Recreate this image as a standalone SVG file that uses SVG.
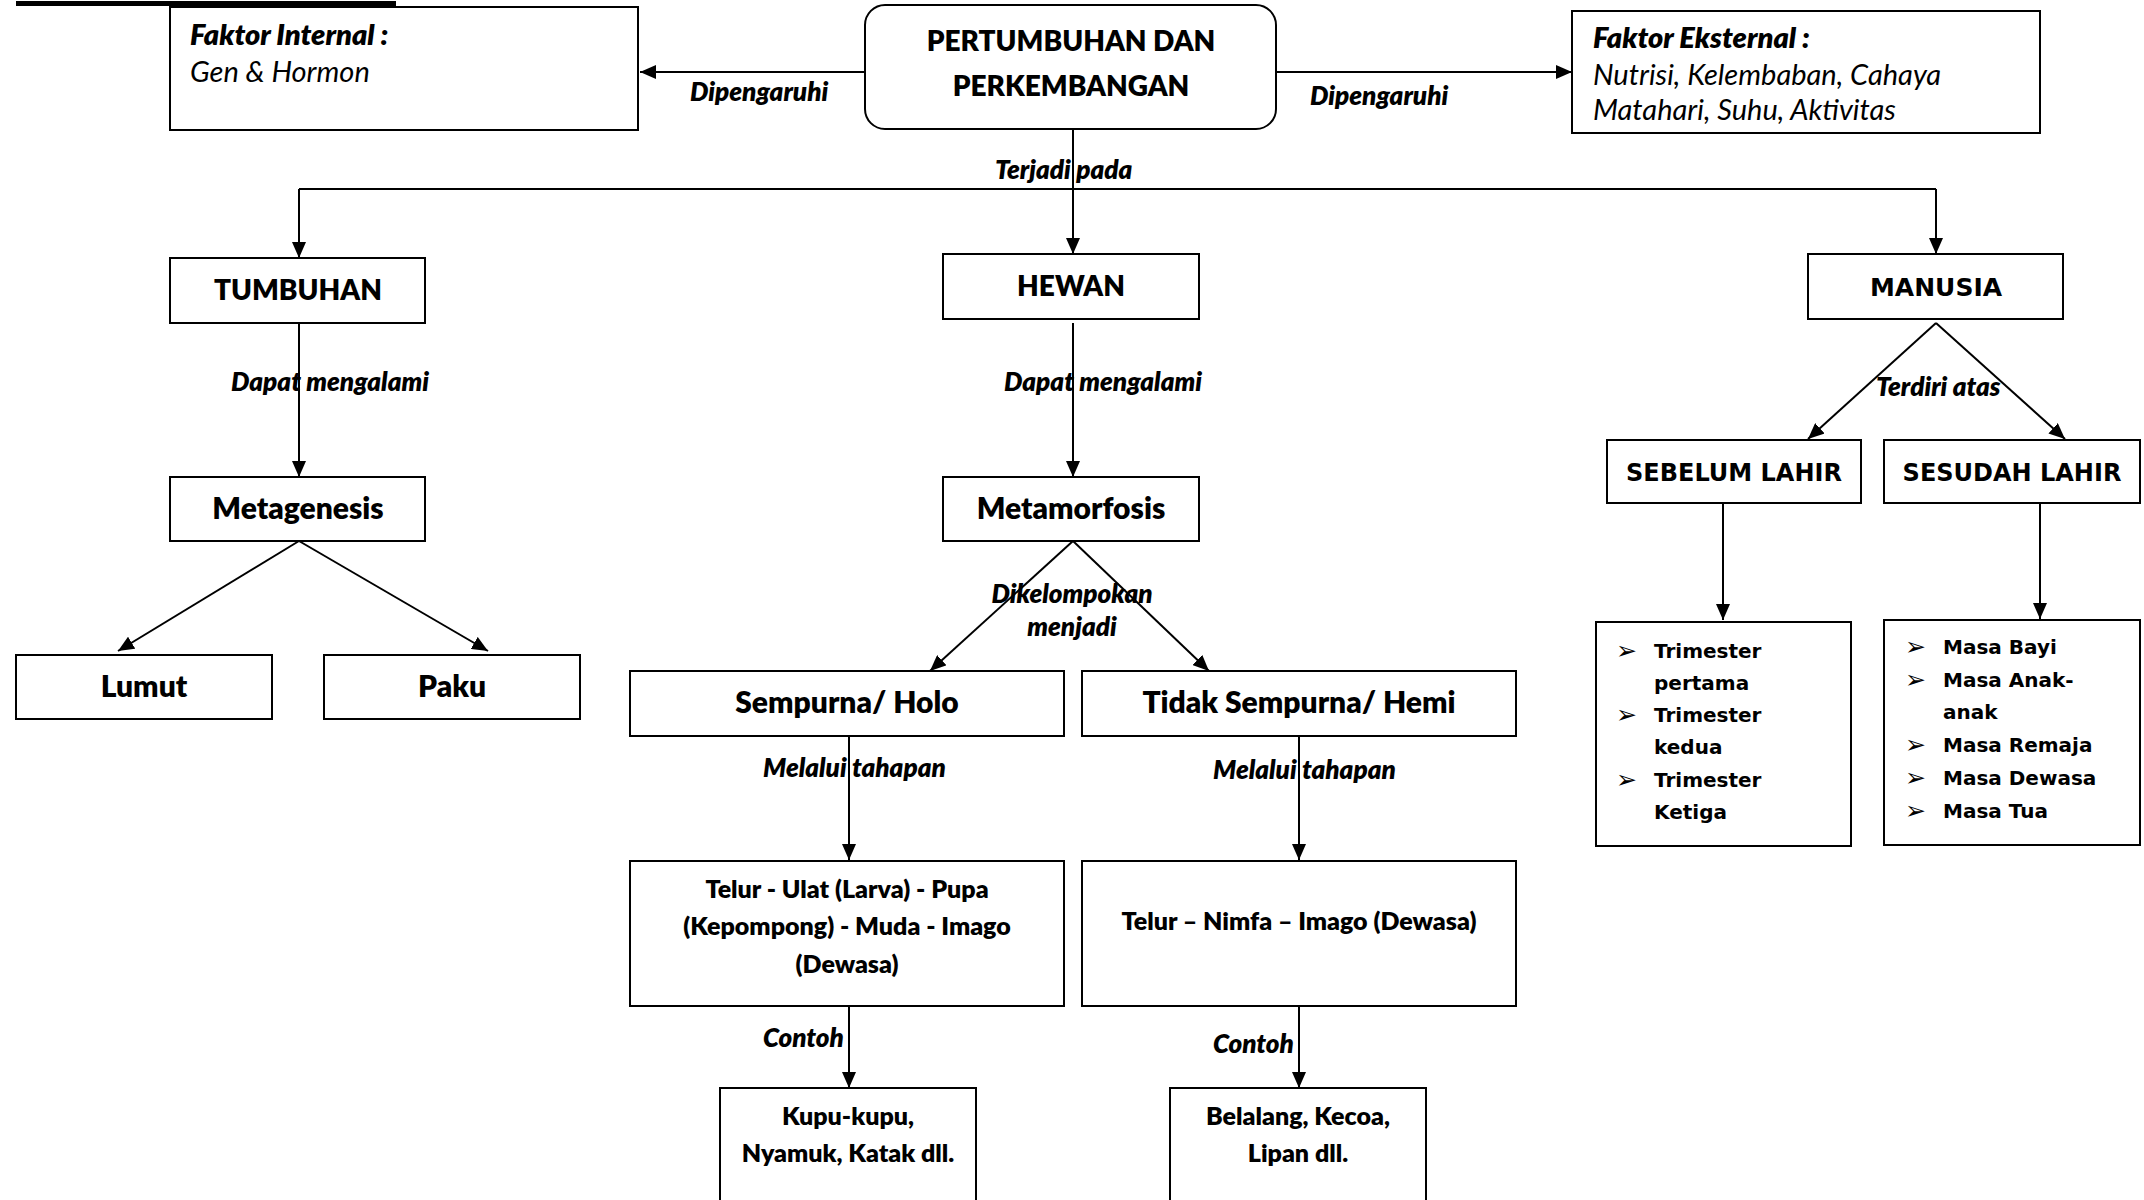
<svg xmlns="http://www.w3.org/2000/svg" width="2144" height="1200" viewBox="0 0 2144 1200">
<defs>
<marker id="arr" markerUnits="userSpaceOnUse" markerWidth="18" markerHeight="14" refX="16" refY="7" orient="auto">
<path d="M0,0 L16,7 L0,14 z" fill="#000"/>
</marker>
<style>
.box{fill:#fff;stroke:#000;stroke-width:2}
.ln{fill:none;stroke:#000;stroke-width:2}
.t{font-family:Lato,"Liberation Sans",sans-serif;font-weight:800;fill:#000;text-anchor:middle}
.lb{font-family:Lato,"Liberation Sans",sans-serif;font-weight:800;font-style:italic;font-size:26px;fill:#000}
.it{font-family:Lato,"Liberation Sans",sans-serif;font-style:italic;font-size:29px;fill:#000}
.v{font-family:"DejaVu Sans",Verdana,sans-serif;font-weight:bold;fill:#000}
.bu{font-family:"DejaVu Sans",sans-serif;font-size:25px;fill:#000}
</style>
</defs>
<rect width="2144" height="1200" fill="#fff"/>
<rect x="16" y="1" width="380" height="5" fill="#000"/>

<g id="connectors">
<path class="ln" d="M865,72 L640,72" marker-end="url(#arr)"/>
<path class="ln" d="M1276,72 L1572,72" marker-end="url(#arr)"/>
<path class="ln" d="M1073,129 L1073,254" marker-end="url(#arr)"/>
<path class="ln" d="M299,189 L1936,189"/>
<path class="ln" d="M299,189 L299,258" marker-end="url(#arr)"/>
<path class="ln" d="M1936,189 L1936,254" marker-end="url(#arr)"/>
<path class="ln" d="M299,323 L299,477" marker-end="url(#arr)"/>
<path class="ln" d="M1073,323 L1073,477" marker-end="url(#arr)"/>
<path class="ln" d="M299,541 L118,651" marker-end="url(#arr)"/>
<path class="ln" d="M299,541 L488,651" marker-end="url(#arr)"/>
<path class="ln" d="M1073,541 L930,671" marker-end="url(#arr)"/>
<path class="ln" d="M1073,541 L1209,671" marker-end="url(#arr)"/>
<path class="ln" d="M849,736 L849,860" marker-end="url(#arr)"/>
<path class="ln" d="M1299,736 L1299,860" marker-end="url(#arr)"/>
<path class="ln" d="M849,1006 L849,1088" marker-end="url(#arr)"/>
<path class="ln" d="M1299,1006 L1299,1088" marker-end="url(#arr)"/>
<path class="ln" d="M1936,323 L1808,439" marker-end="url(#arr)"/>
<path class="ln" d="M1936,323 L2065,439" marker-end="url(#arr)"/>
<path class="ln" d="M1723,503 L1723,620" marker-end="url(#arr)"/>
<path class="ln" d="M2040,503 L2040,619" marker-end="url(#arr)"/>
<text class="lb" x="690" y="101">Dipengaruhi</text>
<text class="lb" x="1310" y="105">Dipengaruhi</text>
<text class="lb" x="995" y="179">Terjadi pada</text>
<text class="lb" x="231" y="391">Dapat mengalami</text>
<text class="lb" x="1004" y="391">Dapat mengalami</text>
<text class="lb" x="1072" y="603" text-anchor="middle">Dikelompokan</text>
<text class="lb" x="1072" y="636" text-anchor="middle">menjadi</text>
<text class="lb" x="763" y="777">Melalui tahapan</text>
<text class="lb" x="1213" y="779">Melalui tahapan</text>
<text class="lb" x="763" y="1047">Contoh</text>
<text class="lb" x="1213" y="1053">Contoh</text>
<text class="lb" x="1876" y="396">Terdiri atas</text>
</g>

<g id="faktor-internal">
<rect class="box" x="170" y="7" width="468" height="123"/>
<text class="it" x="190" y="45" font-weight="800">Faktor Internal :</text>
<text class="it" x="190" y="82">Gen &amp; Hormon</text>
</g>
<g id="pertumbuhan">
<rect class="box" x="865" y="5" width="411" height="124" rx="20"/>
<text class="t" x="1071" y="51" font-size="28">PERTUMBUHAN DAN</text>
<text class="t" x="1071" y="96" font-size="28">PERKEMBANGAN</text>
</g>
<g id="faktor-eksternal">
<rect class="box" x="1572" y="11" width="468" height="122"/>
<text class="it" x="1593" y="48" font-weight="800">Faktor Eksternal :</text>
<text class="it" x="1593" y="85">Nutrisi, Kelembaban, Cahaya</text>
<text class="it" x="1593" y="120">Matahari, Suhu, Aktivitas</text>
</g>
<g id="tumbuhan">
<rect class="box" x="170" y="258" width="255" height="65"/>
<text class="t" x="298" y="300" font-size="28">TUMBUHAN</text>
</g>
<g id="hewan">
<rect class="box" x="943" y="254" width="256" height="65"/>
<text class="t" x="1071" y="296" font-size="28">HEWAN</text>
</g>
<g id="manusia">
<rect class="box" x="1808" y="254" width="255" height="65"/>
<text class="v" x="1936" y="296" font-size="25" text-anchor="middle">MANUSIA</text>
</g>
<g id="metagenesis">
<rect class="box" x="170" y="477" width="255" height="64"/>
<text class="t" x="298" y="519" font-size="30">Metagenesis</text>
</g>
<g id="metamorfosis">
<rect class="box" x="943" y="477" width="256" height="64"/>
<text class="t" x="1071" y="519" font-size="30">Metamorfosis</text>
</g>
<g id="lumut">
<rect class="box" x="16" y="655" width="256" height="64"/>
<text class="t" x="144" y="697" font-size="30">Lumut</text>
</g>
<g id="paku">
<rect class="box" x="324" y="655" width="256" height="64"/>
<text class="t" x="452" y="697" font-size="30">Paku</text>
</g>
<g id="sempurna">
<rect class="box" x="630" y="671" width="434" height="65"/>
<text class="t" x="847" y="713" font-size="30">Sempurna/ Holo</text>
</g>
<g id="tidak-sempurna">
<rect class="box" x="1082" y="671" width="434" height="65"/>
<text class="t" x="1299" y="713" font-size="30">Tidak Sempurna/ Hemi</text>
</g>
<g id="tahapan-holo">
<rect class="box" x="630" y="861" width="434" height="145"/>
<text class="t" x="847" y="898" font-size="25">Telur - Ulat (Larva) - Pupa</text>
<text class="t" x="847" y="935" font-size="25">(Kepompong) - Muda - Imago</text>
<text class="t" x="847" y="973" font-size="25">(Dewasa)</text>
</g>
<g id="tahapan-hemi">
<rect class="box" x="1082" y="861" width="434" height="145"/>
<text class="t" x="1299" y="930" font-size="25">Telur – Nimfa – Imago (Dewasa)</text>
</g>
<g id="contoh-holo">
<rect class="box" x="720" y="1088" width="256" height="130"/>
<text class="t" x="848" y="1125" font-size="25">Kupu-kupu,</text>
<text class="t" x="848" y="1162" font-size="25">Nyamuk, Katak dll.</text>
</g>
<g id="contoh-hemi">
<rect class="box" x="1170" y="1088" width="256" height="130"/>
<text class="t" x="1298" y="1125" font-size="25">Belalang, Kecoa,</text>
<text class="t" x="1298" y="1162" font-size="25">Lipan dll.</text>
</g>
<g id="sebelum-lahir">
<rect class="box" x="1607" y="440" width="254" height="63"/>
<text class="v" x="1734" y="481" font-size="24" text-anchor="middle">SEBELUM LAHIR</text>
</g>
<g id="sesudah-lahir">
<rect class="box" x="1884" y="440" width="256" height="63"/>
<text class="v" x="2012" y="481" font-size="24" text-anchor="middle">SESUDAH LAHIR</text>
</g>
<g id="list-sebelum">
<rect class="box" x="1596" y="622" width="255" height="224"/>
<g class="v" font-size="20">
<text class="bu" x="1616" y="659">➢</text><text x="1654" y="658">Trimester</text>
<text x="1654" y="690">pertama</text>
<text class="bu" x="1616" y="723">➢</text><text x="1654" y="722">Trimester</text>
<text x="1654" y="754">kedua</text>
<text class="bu" x="1616" y="788">➢</text><text x="1654" y="787">Trimester</text>
<text x="1654" y="819">Ketiga</text>
</g>
</g>
<g id="list-sesudah">
<rect class="box" x="1884" y="620" width="256" height="225"/>
<g class="v" font-size="20">
<text class="bu" x="1905" y="655">➢</text><text x="1943" y="654">Masa Bayi</text>
<text class="bu" x="1905" y="688">➢</text><text x="1943" y="687">Masa Anak-</text>
<text x="1943" y="719">anak</text>
<text class="bu" x="1905" y="753">➢</text><text x="1943" y="752">Masa Remaja</text>
<text class="bu" x="1905" y="786">➢</text><text x="1943" y="785">Masa Dewasa</text>
<text class="bu" x="1905" y="819">➢</text><text x="1943" y="818">Masa Tua</text>
</g>
</g>
</svg>
